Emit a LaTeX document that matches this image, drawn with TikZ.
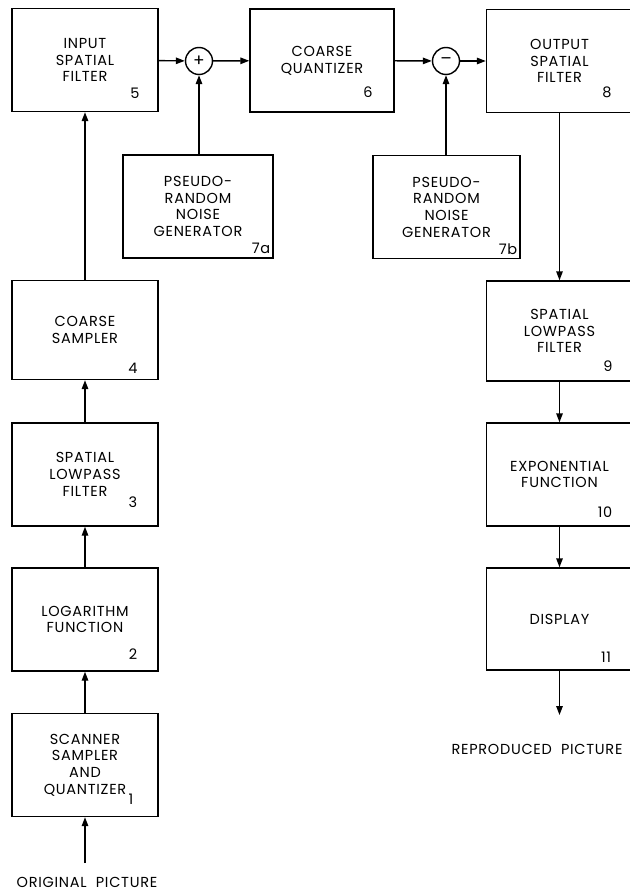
\documentclass[tikz,border=0pt]{standalone}
\usepackage{fontspec}
\setsansfont{Poppins}[LetterSpace=5]
\usetikzlibrary{arrows.meta,positioning}

\begin{document}
\begin{tikzpicture}[x=1pt,y=-1pt,
  blk/.style={rectangle,draw,line width=1.4pt,minimum width=146pt,minimum height=103pt,
    align=center,font=\sffamily\fontsize{14.5}{16.7}\selectfont},
  sum/.style={circle,draw,line width=1.4pt,minimum size=27pt,inner sep=0pt,font=\sffamily\fontsize{17}{17}\selectfont},
  num/.style={inner sep=0pt,font=\sffamily\fontsize{14.5}{16}\selectfont},
  lbl/.style={inner sep=0pt,font=\sffamily\fontsize{14.5}{16}\selectfont},
  sig/.style={line width=1.4pt,-{Triangle[length=9pt,width=6.5pt]}}]
\useasboundingbox (0,0) rectangle (629,896);
% top row: filters, quantizer and the two noise sources
\node[blk] (b5) at (85,60) {INPUT\\SPATIAL\\FILTER};
\node[sum] (s1) at (199,61) {+};
\node[blk,minimum width=144pt] (b6) at (322,60.5) {COARSE\\QUANTIZER};
\node[sum] (s2) at (446,61) {–};
\node[blk] (b8) at (559.5,61) {OUTPUT\\SPATIAL\\FILTER};
\node[blk,minimum width=150pt] (b7a) at (198,206.5) {PSEUDO-\\RANDOM\\NOISE\\GENERATOR};
\node[blk,minimum width=147pt] (b7b) at (446.5,207) {PSEUDO-\\RANDOM\\NOISE\\GENERATOR};
% left column, bottom to top
\node[blk] (b1) at (85,765) {SCANNER\\SAMPLER\\AND\\QUANTIZER};
\node[blk] (b2) at (85,619.5) {LOGARITHM\\FUNCTION};
\node[blk] (b3) at (85,474.5) {SPATIAL\\LOWPASS\\FILTER};
\node[blk,minimum height=99pt] (b4) at (85,330) {COARSE\\SAMPLER};
% right column
\node[blk,minimum height=100pt] (b9) at (559.5,331) {SPATIAL\\LOWPASS\\FILTER};
\node[blk] (b10) at (559.5,474.5) {EXPONENTIAL\\FUNCTION};
\node[blk,minimum height=102pt] (b11) at (559.5,619) {DISPLAY};
% block numbers
\node[num] (n1) at (131,799) {1};
\node[num] (n2) at (133,654) {2};
\node[num] (n3) at (133,502) {3};
\node[num] (n4) at (133,368) {4};
\node[num] (n5) at (135,93) {5};
\node[num] (n6) at (368,92) {6};
\node[num] (n7a) at (261,248) {7a};
\node[num] (n7b) at (508,249) {7b};
\node[num] (n8) at (607,92) {8};
\node[num] (n9) at (608,366) {9};
\node[num] (n10) at (605,512) {10};
\node[num] (n11) at (606,657) {11};
% picture in and out
\coordinate (in) at (85,863);
\coordinate (out) at (559.5,715);
\node[lbl] (inlbl) at (87,882) {ORIGINAL\ \ PICTURE};
\node[lbl] (outlbl) at (537,749) {REPRODUCED\ \ PICTURE};
\draw[sig] (in) -- (b1);
\draw[sig] (b1) -- (b2);
\draw[sig] (b2) -- (b3);
\draw[sig] (b3) -- (b4);
\draw[sig] (b4) -- (b5);
\draw[sig] (b5) -- (s1);
\draw[sig] (b7a.north -| s1) -- (s1);
\draw[sig] (s1) -- (b6);
\draw[sig] (b6) -- (s2);
\draw[sig] (b7b.north -| s2) -- (s2);
\draw[sig] (s2) -- (b8);
\draw[sig] (b8) -- (b9);
\draw[sig] (b9) -- (b10);
\draw[sig] (b10) -- (b11);
\draw[sig] (b11) -- (out);
\end{tikzpicture}
\end{document}
